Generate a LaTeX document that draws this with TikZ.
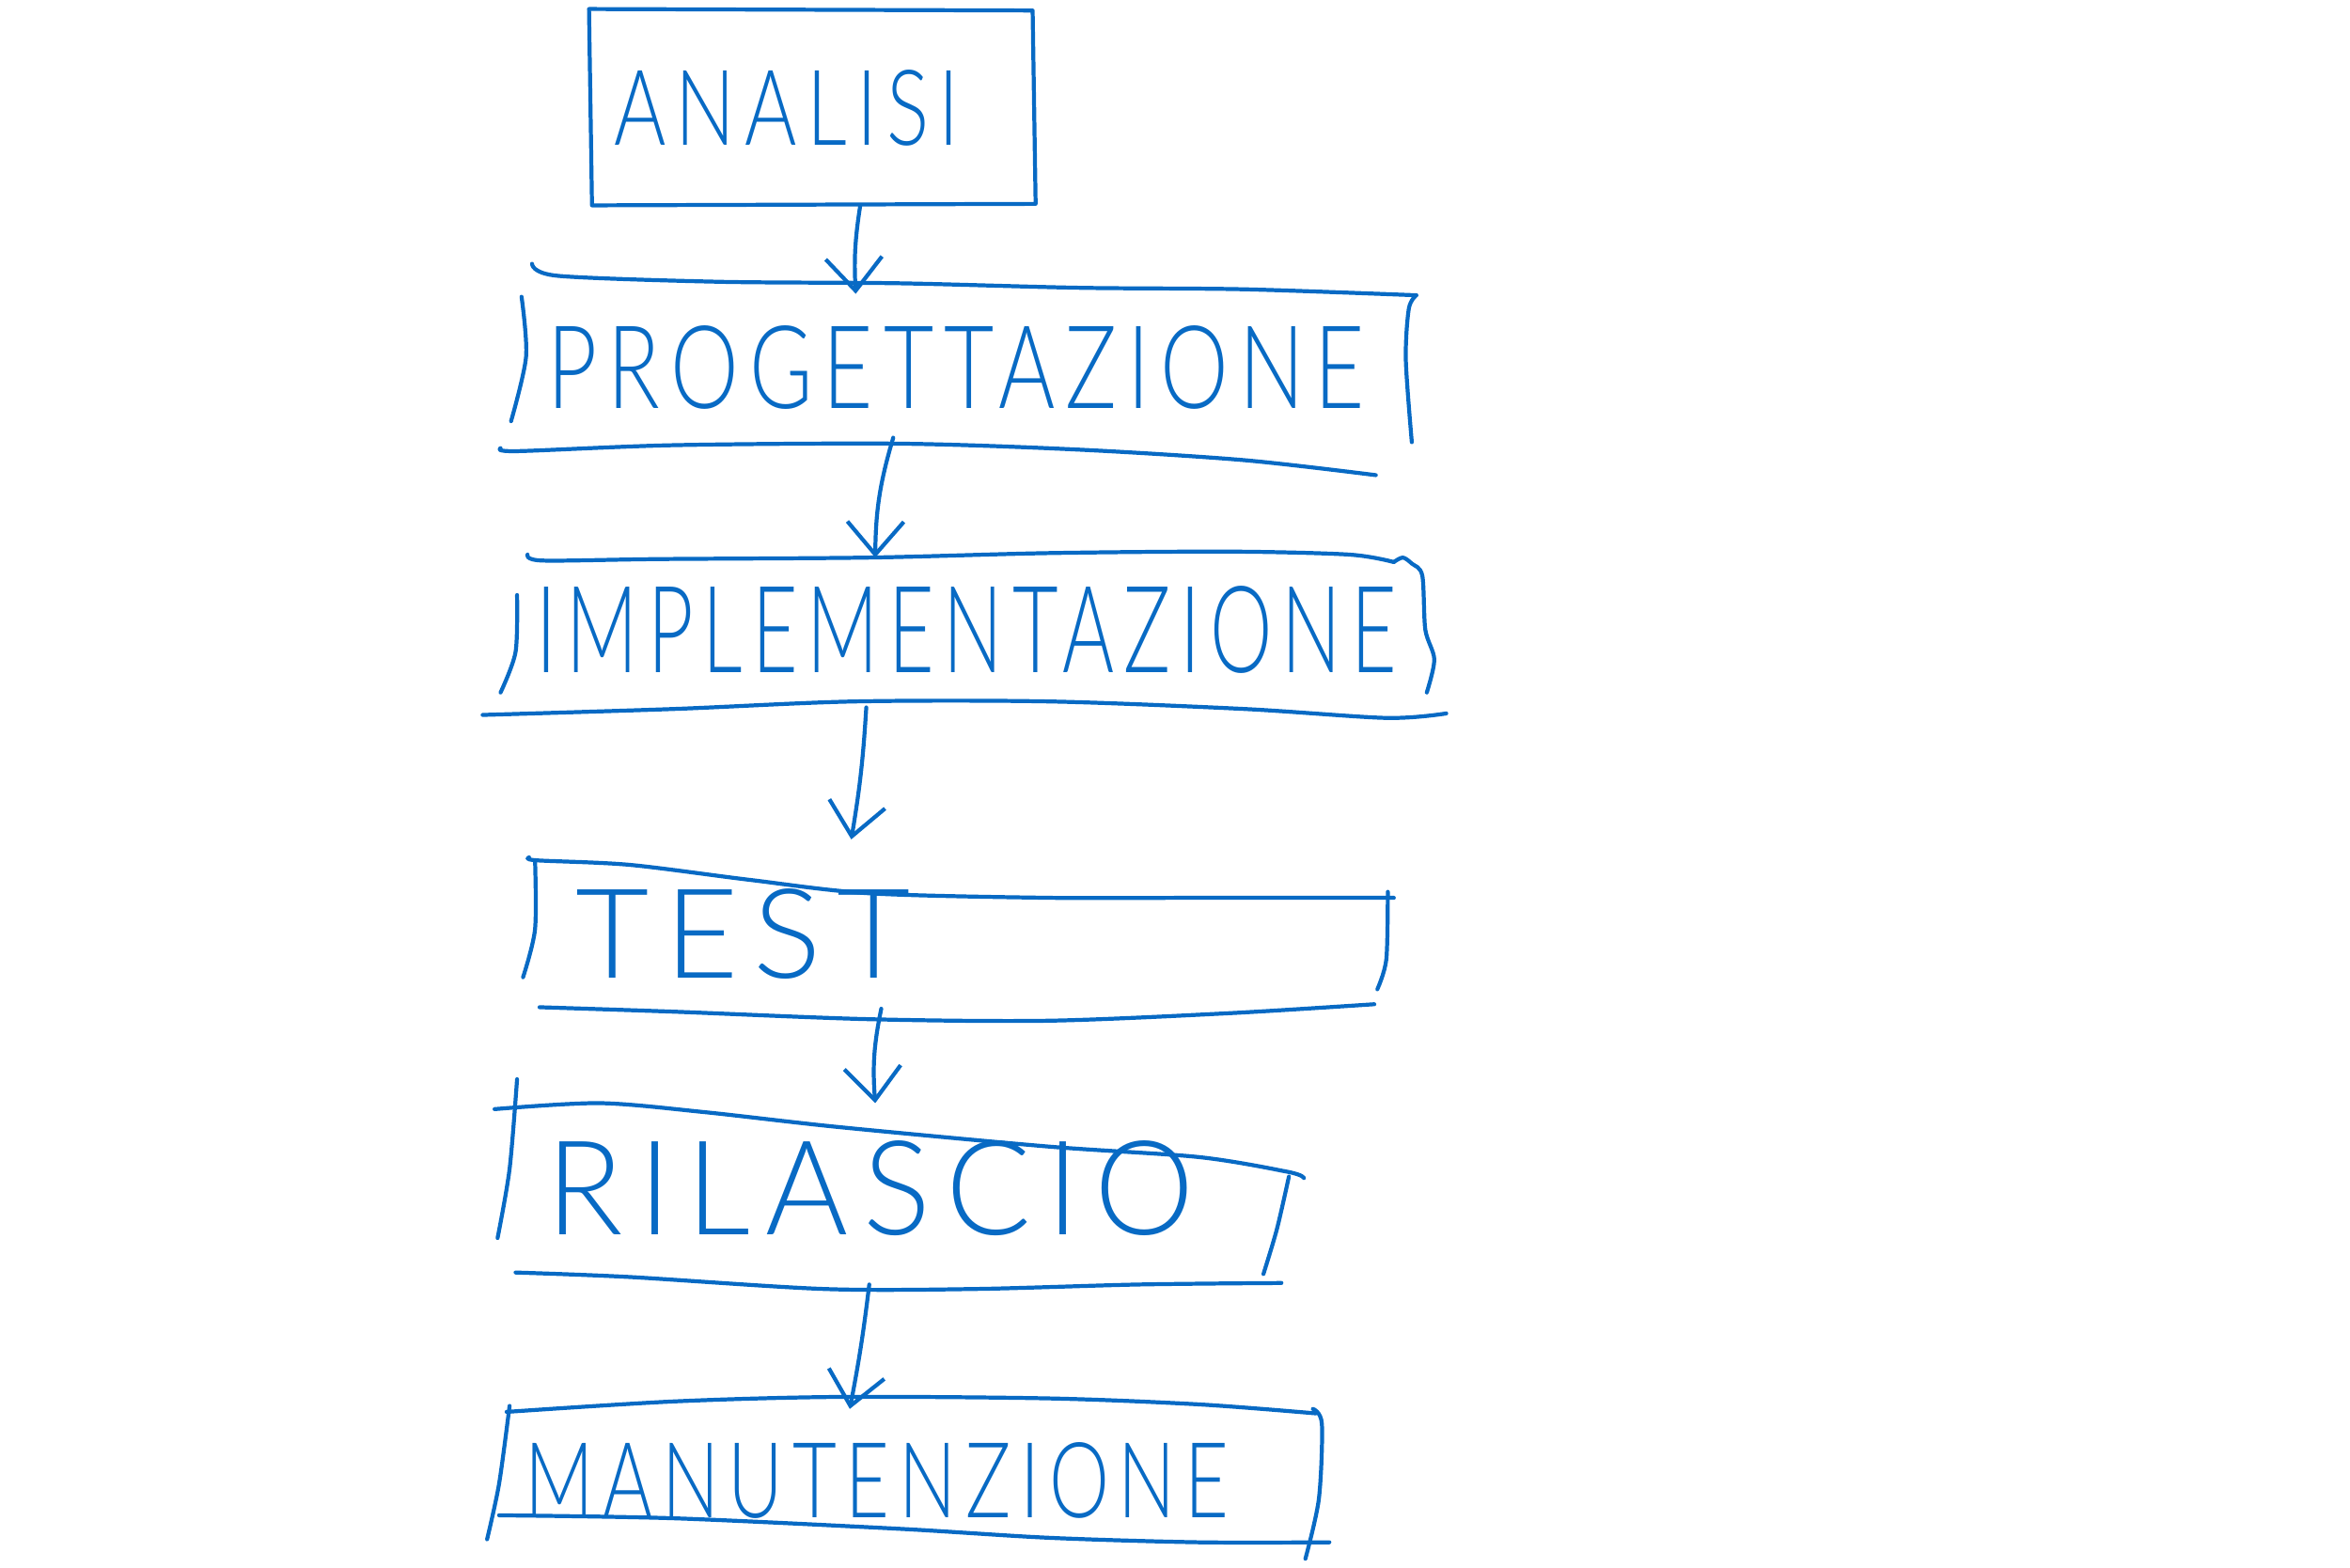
\documentclass[tikz,border=0pt]{standalone}
\usepackage{fontspec,graphicx}
\setmainfont{Liberation Sans}
\newfontfamily\handfont{Lato Light}
\usetikzlibrary{arrows.meta}
\definecolor{ink}{RGB}{8,106,196}
\tikzset{
  pen/.style={draw=ink, line width=1.2pt, line cap=round, line join=round},
  flow/.style={pen, -{Straight Barb[length=3.5mm,width=6mm]}},
  lbl/.style={text=ink, inner sep=0pt, font=\handfont},
}
\newcommand\hand[3]{\resizebox{#1}{#2}{\addfontfeatures{LetterSpace=12}#3}}

\begin{document}
\begin{tikzpicture}[x=0.015944cm, y=-0.015944cm]
    \useasboundingbox (0,0) rectangle (1568,1046);

    % analisi
    \draw[pen] (393,6) -- (689,7) -- (691,136) -- (395,137) -- cycle;
    \node[lbl] (ana) at (525,72) {\hand{3.67cm}{0.8cm}{ANALISI}};

    % progettazione
    \draw[pen] plot[smooth] coordinates {(355,176) (372,184) (480,188) (600,189) (720,192) (830,193) (945,197)};
    \draw[pen] plot[smooth] coordinates {(945,197) (940,206) (938,240) (942,295)};
    \draw[pen] plot[smooth] coordinates {(348,198) (351,238) (341,281)};
    \draw[pen] plot[smooth] coordinates {(334,299) (345,301) (450,297) (600,296) (720,300) (830,307) (918,317)};
    \node[lbl] (prog) at (638,245) {\hand{8.69cm}{0.88cm}{PROGETTAZIONE}};

    % implementazione
    \draw[pen] plot[smooth] coordinates {(352,370) (362,374) (440,373) (580,372) (700,369) (820,368) (900,370) (930,375)};
    \draw[pen] plot[smooth] coordinates {(930,375) (936,372) (942,376) (949,384) (951,420) (957,440) (952,462)};
    \draw[pen] plot[smooth] coordinates {(345,397) (344,435) (334,462)};
    \draw[pen] plot[smooth] coordinates {(322,477) (450,473) (570,468) (700,468) (830,473) (925,479) (965,476)};
    \node[lbl] (impl) at (645,420) {\hand{9.15cm}{0.92cm}{IMPLEMENTAZIONE}};

    % test
    \draw[pen] plot[smooth] coordinates {(353,572) (358,574) (420,577) (500,587) (580,596) (700,599) (800,599) (930,599)};
    \draw[pen] plot[smooth] coordinates {(357,574) (357,620) (349,652)};
    \draw[pen] plot[smooth] coordinates {(926,595) (925,640) (919,660)};
    \draw[pen] plot[smooth] coordinates {(360,672) (450,675) (580,680) (700,681) (820,676) (917,670)};
    \node[lbl] (test) at (496,623) {\hand{3.56cm}{0.95cm}{TEST}};

    % rilascio
    \draw[pen] plot[smooth] coordinates {(330,740) (400,736) (470,742) (560,752) (700,765) (800,772) (860,782) (870,786)};
    \draw[pen] plot[smooth] coordinates {(345,720) (340,780) (332,826)};
    \draw[pen] plot[smooth] coordinates {(860,785) (852,820) (843,850)};
    \draw[pen] plot[smooth] coordinates {(344,849) (420,852) (550,860) (650,860) (760,857) (855,856)};
    \node[lbl] (ril) at (581,793) {\hand{6.89cm}{1.0cm}{RILASCIO}};

    % manutenzione
    \draw[pen] plot[smooth] coordinates {(338,942) (450,935) (560,932) (700,933) (800,937) (878,943)};
    \draw[pen] plot[smooth] coordinates {(340,938) (333,990) (325,1027)};
    \draw[pen] plot[smooth] coordinates {(876,940) (882,950) (880,1000) (871,1040)};
    \draw[pen] plot[smooth] coordinates {(333,1011) (450,1013) (600,1020) (700,1026) (800,1029) (887,1029)};
    \node[lbl] (man) at (585,988) {\hand{7.49cm}{0.8cm}{MANUTENZIONE}};

    % connectors
    \coordinate (ana-s) at (574,137);
    \coordinate (prog-n) at (571,196);
    \coordinate (prog-s) at (596,292);
    \coordinate (impl-n) at (584,372);
    \coordinate (impl-s) at (578,472);
    \coordinate (test-n) at (568,560);
    \coordinate (test-s) at (588,673);
    \coordinate (ril-n) at (584,736);
    \coordinate (ril-s) at (580,857);
    \coordinate (man-n) at (567,940);

    \draw[flow] (ana-s) to[bend right=6] (prog-n);
    \draw[flow] (prog-s) to[bend right=8] (impl-n);
    \draw[flow] (impl-s) to[bend left=3] (test-n);
    \draw[flow] (test-s) to[bend right=8] (ril-n);
    \draw[flow] (ril-s) to[bend left=2] (man-n);

\end{tikzpicture}
\end{document}
